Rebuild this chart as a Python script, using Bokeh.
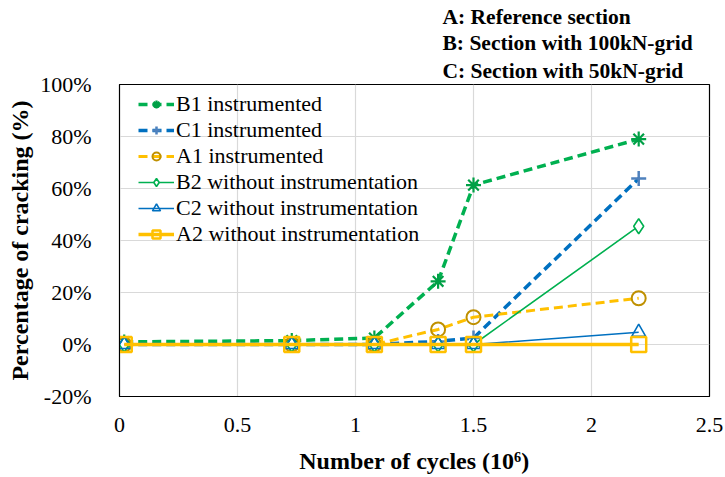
from bokeh.plotting import figure
from bokeh.models import (Legend, LegendItem, FixedTicker, NumeralTickFormatter,
                          Range1d, Title)
from bokeh.embed import file_html
from bokeh.resources import INLINE

# Number of cycles (10^6) at each inspection
cycles = [0.02, 0.73, 1.08, 1.35, 1.5, 2.2]

# Percentage of cracking (fraction) per section
b1_instr = [0.010, 0.015, 0.025, 0.243, 0.613, 0.790]
c1_instr = [0.0, 0.0, 0.0, 0.012, 0.025, 0.638]
a1_instr = [0.0, 0.0, 0.0, 0.058, 0.105, 0.178]
b2_plain = [0.0, 0.0, 0.0, 0.0, 0.0, 0.455]
c2_plain = [0.0, 0.0, 0.0, 0.0, 0.0, 0.047]
a2_plain = [0.0, 0.0, 0.0, 0.0, 0.0, 0.0]

labels = ["B1 instrumented", "C1 instrumented", "A1 instrumented",
          "B2 without instrumentation", "C2 without instrumentation",
          "A2 without instrumentation"]

x_ticks = [0, 0.5, 1, 1.5, 2, 2.5]
y_ticks = [-0.2, 0.0, 0.2, 0.4, 0.6, 0.8, 1.0]

key_lines = ["A: Reference section", "B: Section with 100kN-grid",
             "C: Section with 50kN-grid"]

FONT = "Liberation Serif"

p = figure(width=725, height=477, output_backend="svg", toolbar_location=None,
           title_location=None,
           x_range=Range1d(0, 2.5), y_range=Range1d(-0.2, 1.0),
           min_border_left=119, min_border_right=16,
           min_border_top=84, min_border_bottom=81)
p.background_fill_color = "white"
p.border_fill_color = "white"
p.outline_line_color = "black"
p.outline_line_width = 1.2

p.xaxis.ticker = FixedTicker(ticks=x_ticks)
p.yaxis.ticker = FixedTicker(ticks=y_ticks)
p.yaxis.formatter = NumeralTickFormatter(format="0%")
for ax in (p.xaxis, p.yaxis):
    ax.major_tick_line_color = None
    ax.minor_tick_line_color = None
    ax.axis_line_color = "black"
    ax.major_label_text_font = FONT
    ax.major_label_text_font_size = "22px"
    ax.major_label_text_color = "black"
    ax.axis_label_text_font = FONT
    ax.axis_label_text_font_size = "24px"
    ax.axis_label_text_font_style = "bold"
    ax.axis_label_text_color = "black"
p.xaxis.major_label_standoff = 15
p.yaxis.major_label_standoff = 22
p.xaxis.axis_label = "Number of cycles (10\u2076)"
p.yaxis.axis_label = "Percentage of cracking (%)"
p.xaxis.axis_label_standoff = 13
p.yaxis.axis_label_standoff = 4

p.xgrid.grid_line_color = "#D9D9D9"
p.ygrid.grid_line_color = "#D9D9D9"
p.xgrid.grid_line_width = 1.2
p.ygrid.grid_line_width = 1.2

DASH = "9 5"
items = []

# B1 instrumented
r_l = p.line(cycles, b1_instr, line_color="#00B050", line_width=3.5, line_dash=DASH)
r_m = p.scatter(cycles, b1_instr, marker="asterisk", size=15,
                line_color="#00A046", line_width=2.2)
items.append(LegendItem(label=labels[0], renderers=[r_l, r_m]))

# C1 instrumented
r_l = p.line(cycles, c1_instr, line_color="#0070C0", line_width=3.5, line_dash=DASH)
r_m = p.scatter(cycles, c1_instr, marker="cross", size=15,
                line_color="#4F81BD", line_width=2.5)
items.append(LegendItem(label=labels[1], renderers=[r_l, r_m]))

# A1 instrumented
r_l = p.line(cycles, a1_instr, line_color="#FFC000", line_width=3, line_dash=DASH)
r_m = p.scatter(cycles, a1_instr, marker="circle", size=14, fill_alpha=0,
                line_color="#BF9000", line_width=2)
items.append(LegendItem(label=labels[2], renderers=[r_l, r_m]))

# B2 without instrumentation
r_l = p.line(cycles, b2_plain, line_color="#00B050", line_width=1.6)
r_m = p.scatter(cycles, b2_plain, marker="diamond", size=15, fill_color="white",
                line_color="#00B050", line_width=1.6)
items.append(LegendItem(label=labels[3], renderers=[r_l, r_m]))

# C2 without instrumentation
r_l = p.line(cycles, c2_plain, line_color="#0070C0", line_width=1.6)
r_m = p.scatter(cycles, c2_plain, marker="triangle", size=14, fill_alpha=0,
                line_color="#0070C0", line_width=1.6)
items.append(LegendItem(label=labels[4], renderers=[r_l, r_m]))

# A2 without instrumentation
r_l = p.line(cycles, a2_plain, line_color="#FFC000", line_width=3.5)
r_m = p.scatter(cycles, a2_plain, marker="square", size=15, fill_alpha=0,
                line_color="#FFC000", line_width=2.5)
items.append(LegendItem(label=labels[5], renderers=[r_l, r_m]))

legend = Legend(items=items, location=(19, 149), orientation="vertical")
legend.background_fill_alpha = 0
legend.border_line_color = None
legend.label_text_font = FONT
legend.label_text_font_size = "22px"
legend.label_text_color = "black"
legend.glyph_width = 36
legend.glyph_height = 20
legend.label_height = 20
legend.label_standoff = 2
legend.spacing = 0
legend.padding = 10
legend.margin = 0
p.add_layout(legend, "center")

# Section key stacked above the plot area (nearest line first)
for i, txt in enumerate(reversed(key_lines)):
    p.add_layout(Title(text=txt, align="left", offset=323,
                       standoff=4 if i == 0 else 0, text_line_height=0.9,
                       text_font=FONT, text_font_size="21.5px",
                       text_font_style="bold", text_color="black"), "above")

open("out.html", "w").write(file_html(p, INLINE))
